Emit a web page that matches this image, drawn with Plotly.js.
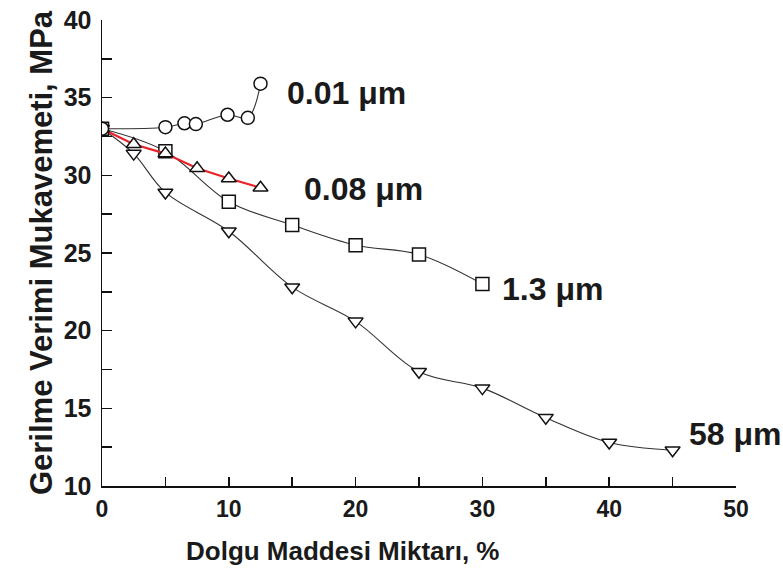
<!DOCTYPE html>
<html>
<head>
<meta charset="utf-8">
<script src="https://cdn.plot.ly/plotly-3.0.1.min.js"></script>
<style>html,body{margin:0;padding:0;background:#fff;}#chart{width:783px;height:571px;}</style>
</head>
<body>
<div id="chart"></div>
<script>
// 0.01 µm
const x001 = [0, 5, 6.5, 7.4, 9.9, 11.5, 12.5];
const y001 = [33.0, 33.1, 33.35, 33.3, 33.9, 33.7, 35.9];
// 0.08 µm
const x008 = [0, 2.5, 5, 7.5, 10, 12.5];
const y008 = [33.0, 32.0, 31.4, 30.45, 29.8, 29.2];
// 1.3 µm
const x13 = [0, 5, 10, 15, 20, 25, 30];
const y13 = [33.0, 31.55, 28.3, 26.8, 25.5, 24.9, 23.0];
// 58 µm
const x58 = [0, 2.5, 5, 10, 15, 20, 25, 30, 35, 40, 45];
const y58 = [33.0, 31.4, 28.9, 26.4, 22.8, 20.6, 17.35, 16.3, 14.4, 12.8, 12.3];

const labels = ["0.01 μm", "0.08 μm", "1.3 μm", "58 μm"];
const labelX = [14.4, 15.75, 31.35, 46.15];
const labelY = [35.3, 29.15, 22.7, 13.35];
const xTickVals = [0, 10, 20, 30, 40, 50];
const yTickVals = [10, 15, 20, 25, 30, 35, 40];

const mk = (sym) => ({symbol: sym, size: 13, color: '#fff', line: {color: '#111', width: 1.5}});
const thin = {color: '#333', width: 1.1, shape: 'spline', smoothing: 1};

const traces = [
  {x: x58, y: y58, mode: 'lines+markers', line: thin, marker: mk('triangle-down')},
  {x: x13, y: y13, mode: 'lines+markers', line: thin, marker: mk('square')},
  {x: x008, y: y008, mode: 'lines', line: {color: '#e8232a', width: 2.2}},
  {x: x008, y: y008, mode: 'markers', marker: mk('triangle-up')},
  {x: x001, y: y001, mode: 'lines+markers', line: thin, marker: mk('circle')}
];

const annFont = {family: 'Liberation Sans, Arial, sans-serif', size: 32, color: '#1a1a1a'};
const annotations = labels.map((t, i) => ({
  x: labelX[i], y: labelY[i], text: '<b>' + t + '</b>',
  xref: 'x', yref: 'y', xanchor: 'left', yanchor: 'middle', showarrow: false, font: annFont
}));
const L = 102, R = 47, T = 20, B = 85, W = 783, H = 571;
// x-axis title placed at its pixel position in the reference (left of plot centre)
annotations.push({
  x: (343 - L) / (W - L - R), y: (H - B - 551) / (H - T - B), xref: 'paper', yref: 'paper',
  text: '<b>Dolgu Maddesi Miktarı, %</b>',
  showarrow: false, xanchor: 'center', yanchor: 'middle',
  font: {family: 'Liberation Sans, Arial', size: 26, color: '#1a1a1a'}
});

const layout = {
  width: W, height: H,
  margin: {l: L, r: R, t: T, b: B},
  paper_bgcolor: '#fff', plot_bgcolor: '#fff',
  showlegend: false,
  xaxis: {
    range: [0, 50], tickvals: xTickVals, ticktext: xTickVals.map(String),
    showgrid: false, zeroline: false, showline: true, linecolor: '#111', linewidth: 1.5,
    ticks: 'inside', ticklen: 9, tickwidth: 1.5, tickcolor: '#111',
    minor: {dtick: 5, ticks: 'inside', ticklen: 9, tickwidth: 1.5, tickcolor: '#111', showgrid: false},
    tickfont: {family: 'Liberation Sans, Arial', size: 23, color: '#1a1a1a', weight: 'bold'},
    ticklabelstandoff: 2
  },
  yaxis: {
    range: [10, 40], tickvals: yTickVals, ticktext: yTickVals.map(String),
    showgrid: false, zeroline: false, showline: true, linecolor: '#111', linewidth: 1.5,
    ticks: 'inside', ticklen: 10, tickwidth: 1.5, tickcolor: '#111',
    minor: {dtick: 2.5, ticks: 'inside', ticklen: 10, tickwidth: 1.5, tickcolor: '#111', showgrid: false},
    tickfont: {family: 'Liberation Sans, Arial', size: 25, color: '#1a1a1a', weight: 'bold'},
    ticklabelstandoff: 4,
    title: {text: '<b>Gerilme Verimi Mukavemeti, MPa</b>', font: {family: 'Liberation Sans, Arial', size: 31, color: '#1a1a1a'}, standoff: 2}
  },
  annotations: annotations
};

Plotly.newPlot('chart', traces, layout, {displayModeBar: false, staticPlot: true});
</script>
</body>
</html>
